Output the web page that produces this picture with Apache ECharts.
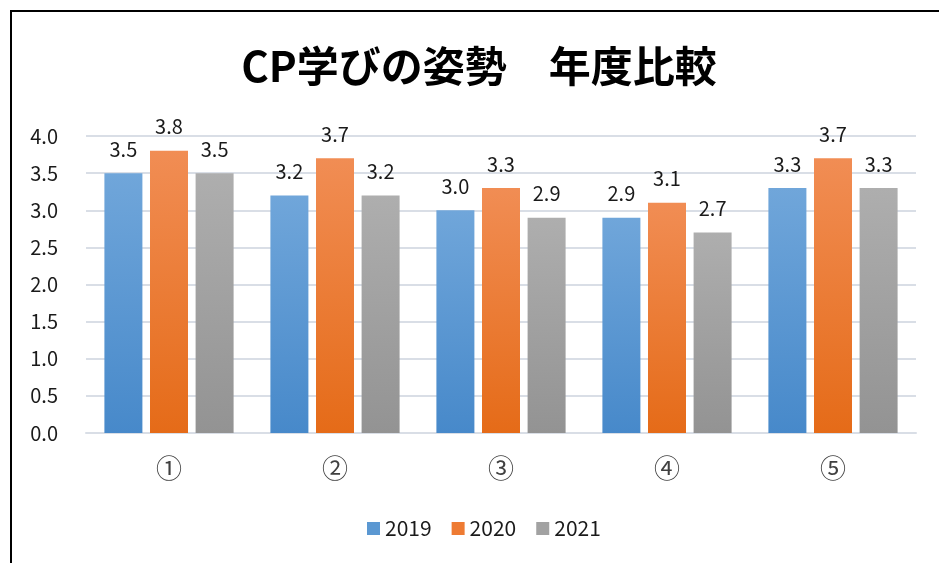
<!DOCTYPE html>
<html>
<head>
<meta charset="utf-8">
<script src="https://cdn.jsdelivr.net/npm/echarts@6/dist/echarts.min.js"></script>
<style>
  html, body { margin: 0; padding: 0; background: #fff; }
  #chart { width: 939px; height: 563px; }
</style>
</head>
<body>
<div id="chart"></div>
<script>
const categories = ['①', '②', '③', '④', '⑤'];
const seriesNames = ['2019', '2020', '2021'];
const values2019 = [3.5, 3.2, 3.0, 2.9, 3.3];
const values2020 = [3.8, 3.7, 3.3, 3.1, 3.7];
const values2021 = [3.5, 3.2, 2.9, 2.7, 3.3];
const yTicks = [0, 0.5, 1, 1.5, 2, 2.5, 3, 3.5, 4];

const FONT = '"Noto Sans CJK JP", "Noto Sans", sans-serif';

// 上が明るく下が濃いグラデーション
const grad = (top, bottom) => new echarts.graphic.LinearGradient(0, 0, 0, 1, [
  { offset: 0, color: top },
  { offset: 1, color: bottom }
]);

const colors = [
  grad('#70a6da', '#4789ca'),
  grad('#f18d54', '#e56b18'),
  grad('#aeaeae', '#939393')
];
const legendColors = ['#5b98d2', '#ee7b33', '#a2a2a2'];
const allValues = [values2019, values2020, values2021];

const chart = echarts.init(document.getElementById('chart'));

const option = {
  backgroundColor: '#fff',
  animation: false,
  title: {
    text: 'CP学びの姿勢　年度比較',
    left: 474,
    top: 40,
    textAlign: 'center',
    textStyle: {
      fontFamily: FONT,
      fontSize: 42,
      fontWeight: 'bold',
      color: '#000'
    }
  },
  legend: {
    data: seriesNames.map((n, i) => ({ name: n, itemStyle: { color: legendColors[i] } })),
    left: 362,
    top: 513,
    icon: 'rect',
    itemWidth: 13,
    itemHeight: 13,
    itemGap: 20,
    textStyle: { fontFamily: FONT, fontSize: 21, color: '#1a1a1a' }
  },
  grid: {
    left: 86,
    right: 23,
    top: 136,
    bottom: 130
  },
  xAxis: {
    type: 'category',
    data: categories,
    axisLine: { lineStyle: { color: '#d9dee6', width: 2 } },
    axisTick: { show: false },
    axisLabel: {
      margin: 22,
      fontFamily: FONT,
      fontSize: 26,
      color: '#404040'
    }
  },
  yAxis: {
    type: 'value',
    min: yTicks[0],
    max: yTicks[yTicks.length - 1],
    interval: 0.5,
    axisLine: { show: false },
    axisTick: { show: false },
    axisLabel: {
      margin: 28,
      fontFamily: FONT,
      fontSize: 20,
      color: '#1a1a1a',
      formatter: v => v.toFixed(1)
    },
    splitLine: { lineStyle: { color: '#d9dee6', width: 2 } }
  },
  series: seriesNames.map((name, i) => ({
    name: name,
    type: 'bar',
    data: allValues[i],
    barWidth: 38,
    barGap: '20%',
    barCategoryGap: '22%',
    itemStyle: { color: colors[i] },
    label: {
      show: true,
      position: 'top',
      distance: 14,
      fontFamily: FONT,
      fontSize: 20,
      color: '#1a1a1a',
      formatter: p => p.value.toFixed(1)
    }
  })),
  graphic: [
    {
      type: 'polyline',
      shape: { points: [[11, 563], [11, 11], [939, 11]] },
      style: { stroke: '#000', lineWidth: 2, fill: null }
    }
  ]
};

chart.setOption(option);
</script>
</body>
</html>
